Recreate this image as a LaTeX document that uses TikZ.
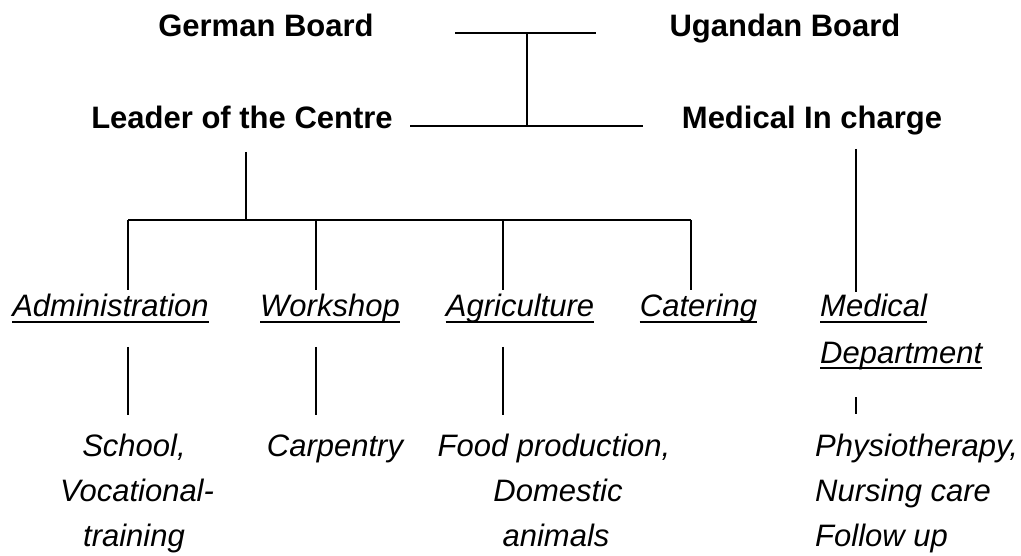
\documentclass[tikz,border=0pt]{standalone}
\usepackage{fontspec}
\setmainfont{Liberation Sans}
\begin{document}
\begin{tikzpicture}[x=1pt,y=-1pt,
  head/.style={inner sep=0pt, anchor=base, font=\fontsize{31}{37}\selectfont\bfseries},
  dept/.style={inner sep=0pt, anchor=base, font=\fontsize{31}{37}\selectfont\itshape},
  task/.style={inner sep=0pt, anchor=base, font=\fontsize{31}{37}\selectfont\itshape},
  taskl/.style={task, anchor=base west},
  hline/.style={line width=1.8pt},
  vline/.style={line width=1.3pt},
  uline/.style={line width=2pt}]
\useasboundingbox (0,0) rectangle (1021,556);

% top level
\node[head] (gb) at (266,36.5) {German Board};
\node[head] (ub) at (785,36.5) {Ugandan Board};
\node[head] (lc) at (242,129) {Leader of the Centre};
\node[head] (mc) at (812,129) {Medical In charge};

% departments
\node[dept] (adm) at (110.5,317) {Administration};
\node[dept] (ws)  at (330,317) {Workshop};
\node[dept] (agr) at (520,317) {Agriculture};
\node[dept] (cat) at (698.5,317) {Catering};
\node[dept, anchor=base west] (med1) at (820,317) {Medical};
\node[dept, anchor=base west] (med2) at (820,363) {Department};

% tasks
\node[task] (sch1) at (134,456) {School,};
\node[task] (sch2) at (137,501) {Vocational-};
\node[task] (sch3) at (134,546) {training};
\node[task] (car)  at (335,456) {Carpentry};
\node[task] (fd1)  at (554,456) {Food production,};
\node[task] (fd2)  at (558,501) {Domestic};
\node[task] (fd3)  at (556,546) {animals};
\node[taskl] (ph1) at (815,456) {Physiotherapy,};
\node[taskl] (ph2) at (815,501) {Nursing care};
\node[taskl] (ph3) at (815,546) {Follow up};

% underlines
\foreach \n in {adm,ws,agr,cat,med1,med2}
  \draw[uline] ([yshift=-5pt]\n.base west) -- ([yshift=-5pt]\n.base east);

% connector points
\coordinate (tl) at (455,33);
\coordinate (tr) at (596,33);
\coordinate (tm) at (527,33);
\coordinate (ll) at (410,126);
\coordinate (lr) at (643,126);
\coordinate (lm) at (527,126);
\coordinate (lct) at (246,152);
\coordinate (lcb) at (246,220);
\coordinate (b1) at (128,220);
\coordinate (b2) at (316,220);
\coordinate (b3) at (503,220);
\coordinate (b4) at (691,220);
\coordinate (a1) at (128,290);
\coordinate (a2) at (316,290);
\coordinate (a3) at (503,290);
\coordinate (a4) at (691,290);
\coordinate (mt) at (856,149);
\coordinate (mb) at (856,292);
\coordinate (d1t) at (128,347);
\coordinate (d1b) at (128,415);
\coordinate (d2t) at (316,347);
\coordinate (d2b) at (316,415);
\coordinate (d3t) at (503,347);
\coordinate (d3b) at (503,415);
\coordinate (d4t) at (856,397);
\coordinate (d4b) at (856,414);

% connectors
\draw[hline] (tl) -- (tr);
\draw[vline] (tm) -- (lm);
\draw[hline] (ll) -- (lr);
\draw[vline] (lct) -- (lcb);
\draw[hline] (b1) -- (b4);
\draw[vline] (b1) -- (a1);
\draw[vline] (b2) -- (a2);
\draw[vline] (b3) -- (a3);
\draw[vline] (b4) -- (a4);
\draw[vline] (mt) -- (mb);
\draw[vline] (d1t) -- (d1b);
\draw[vline] (d2t) -- (d2b);
\draw[vline] (d3t) -- (d3b);
\draw[vline] (d4t) -- (d4b);
\end{tikzpicture}
\end{document}
